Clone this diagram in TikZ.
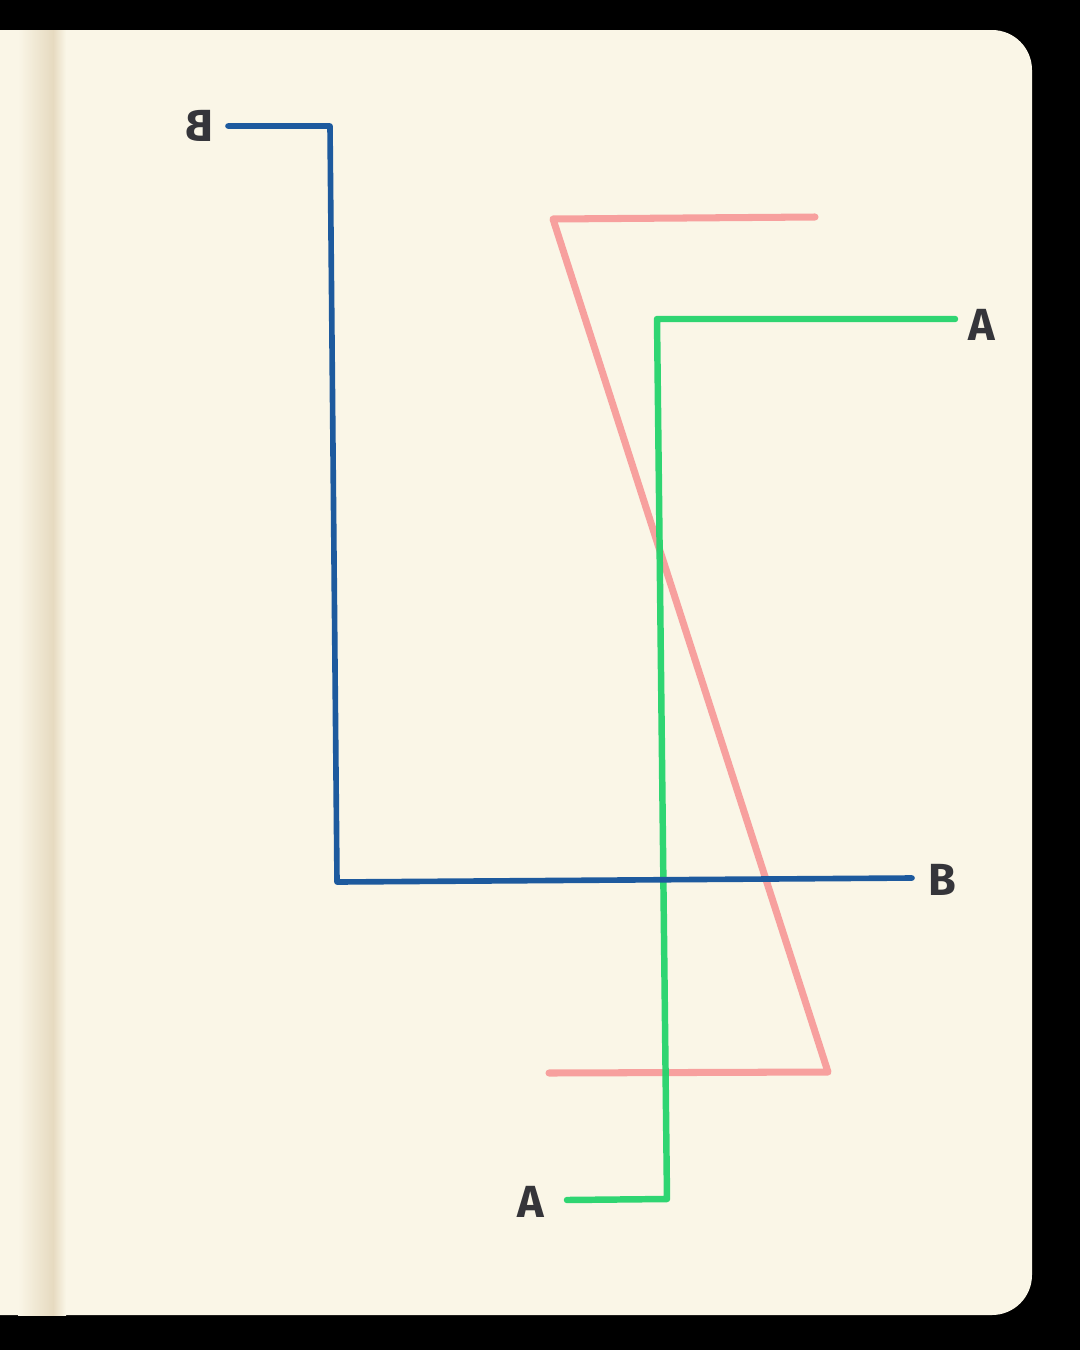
\documentclass[tikz,border=0pt]{standalone}
\usepackage{fontspec}
\setsansfont{Fira Sans}
\usepackage{graphicx}
\usetikzlibrary{calc}

\definecolor{paper}{HTML}{FAF6E7}
\definecolor{spine}{HTML}{E6DAC0}
\definecolor{penblue}{HTML}{1D5A9E}
\definecolor{penred}{HTML}{F7A09E}
\definecolor{pengreen}{HTML}{25D46C}
\definecolor{ink}{HTML}{35353A}

\tikzset{
  wire/.style={line width=4.6pt, line cap=round, line join=round},
  tag/.style={text=ink, font=\sffamily\bfseries\fontsize{32}{32}\selectfont, inner sep=0pt}
}

\begin{document}
\begin{tikzpicture}[x=0.025cm,y=-0.025cm]
    % Page and background
    \fill[black] (0,0) rectangle (1080,1350);
    \useasboundingbox (0,0) rectangle (1080,1350);
    \begin{scope}
      \clip (0,0) rectangle (1080,1350);
      \fill[paper,rounded corners=1cm] (-100,30) -- (1032,30) -- (1032,1315) -- (-100,1315) -- cycle;
    \end{scope}
    \shade[left color=paper, right color=spine] (18,30) rectangle (53,1315);
    \shade[left color=spine, right color=paper] (53,30) rectangle (66,1315);

    % Corners
    \coordinate (b1) at (228,126);
    \coordinate (b2) at (330,126);
    \coordinate (b3) at (337,882);
    \coordinate (b4) at (912,878);
    \coordinate (r1) at (815,217);
    \coordinate (r2) at (553,219);
    \coordinate (r3) at (828,1072);
    \coordinate (r4) at (549,1073);
    \coordinate (g1) at (955,319);
    \coordinate (g2) at (657,319);
    \coordinate (g3) at (667,1199);
    \coordinate (g4) at (567,1200);

    % Labels
    \node[tag] (bl) at (200,126) {\reflectbox{B}};
    \node[tag] (br) at (942,880) {B};
    \node[tag] (ar) at (982,325) {A};
    \node[tag] (al) at (531,1202) {A};

    % Red path
    \draw[wire,penred,line width=5pt] (r1) -- (r2) -- (r3) -- (r4);
    % Green path
    \draw[wire,pengreen,opacity=0.95] (g1) -- (g2) -- (g3) -- (g4);
    % Blue path
    \draw[wire,penblue,line width=4pt] (b1) -- (b2) -- (b3) -- (b4);
\end{tikzpicture}
\end{document}
